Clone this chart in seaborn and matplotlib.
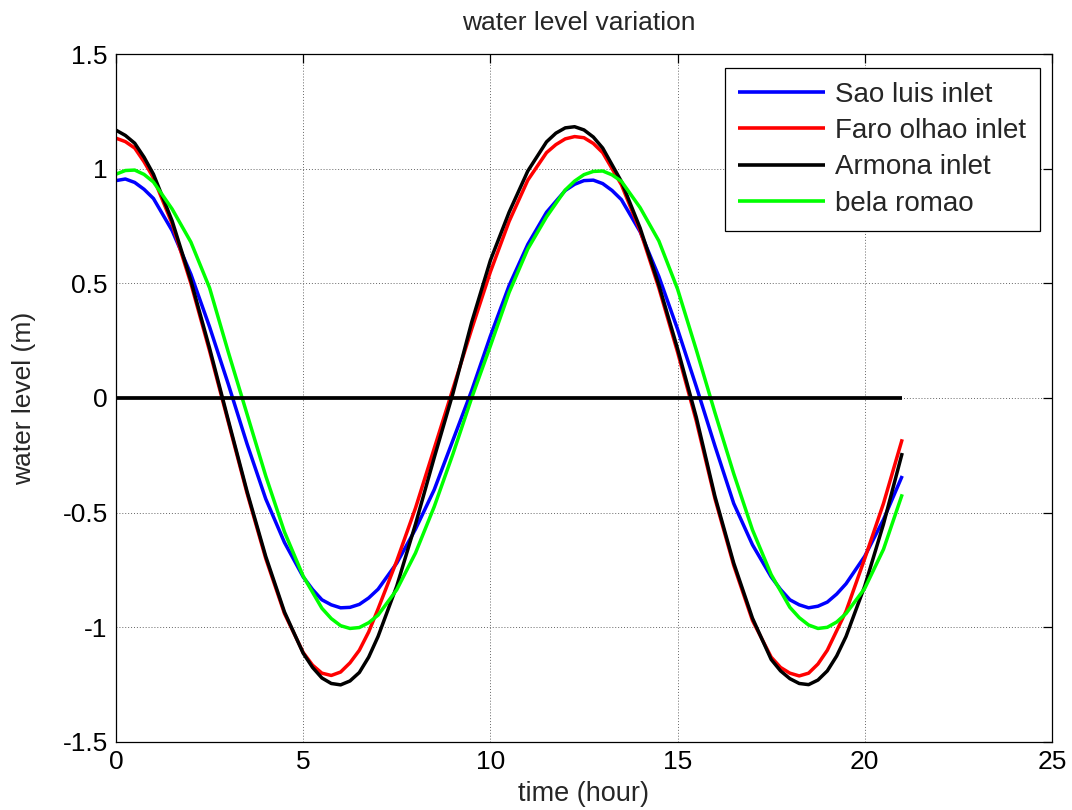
import matplotlib
matplotlib.use("Agg")
import matplotlib.pyplot as plt
import seaborn as sns

# ---------------- data ----------------
sao_luis_t = [0, 0.25, 0.5, 0.75, 1, 1.5, 2, 2.5, 3, 3.5, 4, 4.5, 5,
              5.25, 5.5, 5.75, 6, 6.25, 6.5, 6.75, 7,
              7.5, 8, 8.5, 9, 9.5, 10, 10.5, 11, 11.5, 12,
              12.25, 12.5, 12.75, 13, 13.25, 13.5,
              14, 14.5, 15, 15.5, 16, 16.5, 17, 17.5,
              17.75, 18, 18.25, 18.5, 18.75, 19, 19.25, 19.5,
              20, 20.5, 21]
sao_luis = [0.948, 0.955, 0.94, 0.91, 0.87, 0.73, 0.54, 0.31, 0.06, -0.20, -0.44, -0.63, -0.78,
            -0.835, -0.88, -0.902, -0.915, -0.913, -0.90, -0.872, -0.834,
            -0.72, -0.572, -0.40, -0.184, 0.032, 0.27, 0.49, 0.67, 0.81, 0.905,
            0.932, 0.948, 0.95, 0.935, 0.905, 0.865,
            0.725, 0.53, 0.30, 0.05, -0.21, -0.46, -0.64, -0.78,
            -0.835, -0.88, -0.902, -0.915, -0.908, -0.89, -0.855, -0.81,
            -0.69, -0.53, -0.34]

faro_olhao_t = [0, 0.25, 0.5, 0.75, 1, 1.5, 2, 2.5, 3, 3.5, 4, 4.5, 5,
                5.25, 5.5, 5.75, 6, 6.25, 6.5, 6.75, 7,
                7.5, 8, 8.5, 9, 9.5, 10, 10.5, 11, 11.5,
                11.75, 12, 12.25, 12.5, 12.75, 13,
                13.5, 14, 14.5, 15, 15.5, 16, 16.5, 17, 17.5,
                17.75, 18, 18.25, 18.5, 18.75, 19,
                19.5, 20, 20.5, 21]
faro_olhao = [1.133, 1.118, 1.09, 1.03, 0.96, 0.76, 0.50, 0.205, -0.105, -0.415, -0.70, -0.94, -1.11,
              -1.165, -1.20, -1.21, -1.195, -1.155, -1.10, -1.02, -0.92,
              -0.71, -0.48, -0.22, 0.04, 0.30, 0.55, 0.77, 0.95, 1.07,
              1.105, 1.13, 1.14, 1.135, 1.11, 1.07,
              0.93, 0.73, 0.48, 0.20, -0.10, -0.44, -0.73, -0.97, -1.13,
              -1.175, -1.20, -1.212, -1.20, -1.16, -1.10,
              -0.93, -0.70, -0.46, -0.18]

armona_t = [0, 0.25, 0.5, 0.75, 1, 1.5, 2, 2.5, 3, 3.5, 4, 4.5, 5,
            5.25, 5.5, 5.75, 6, 6.25, 6.5, 6.75, 7,
            7.5, 8, 8.5, 9, 9.5, 10, 10.5, 11, 11.5,
            11.75, 12, 12.25, 12.5, 12.75, 13,
            13.5, 14, 14.5, 15, 15.5, 16, 16.5, 17, 17.5,
            17.75, 18, 18.25, 18.5, 18.75, 19, 19.25, 19.5,
            20, 20.5, 21]
armona = [1.168, 1.145, 1.111, 1.05, 0.976, 0.772, 0.512, 0.217, -0.097, -0.407, -0.691, -0.933, -1.113,
          -1.175, -1.221, -1.245, -1.251, -1.234, -1.197, -1.13, -1.04,
          -0.82, -0.55, -0.26, 0.02, 0.33, 0.60, 0.81, 0.99, 1.117,
          1.155, 1.178, 1.183, 1.169, 1.138, 1.090,
          0.944, 0.741, 0.493, 0.215, -0.084, -0.43, -0.72, -0.96, -1.14,
          -1.19, -1.224, -1.245, -1.25, -1.23, -1.19, -1.125, -1.04,
          -0.82, -0.55, -0.24]

bela_romao_t = [0, 0.25, 0.5, 0.75, 1, 1.5, 2, 2.5, 3, 3.5, 4, 4.5, 5,
                5.5, 5.75, 6, 6.25, 6.5, 6.75, 7,
                7.5, 8, 8.5, 9, 9.5, 10, 10.5, 11, 11.5, 12,
                12.25, 12.5, 12.75, 13, 13.25, 13.5,
                14, 14.5, 15, 15.5, 16, 16.5, 17, 17.5,
                18, 18.25, 18.5, 18.75, 19, 19.25, 19.5,
                20, 20.5, 21]
bela_romao = [0.976, 0.992, 0.994, 0.975, 0.942, 0.824, 0.68, 0.48, 0.20, -0.07, -0.34, -0.584, -0.777,
              -0.917, -0.962, -0.993, -1.005, -1.001, -0.98, -0.947,
              -0.836, -0.676, -0.474, -0.244, 0.0, 0.227, 0.46, 0.65, 0.79, 0.907,
              0.946, 0.974, 0.988, 0.99, 0.973, 0.945,
              0.83, 0.685, 0.475, 0.21, -0.065, -0.33, -0.575, -0.77,
              -0.913, -0.958, -0.99, -1.005, -1.0, -0.977, -0.94,
              -0.83, -0.66, -0.42]

zero_x = [0, 21]
zero_y = [0, 0]

series_names = ["Sao luis inlet", "Faro olhao inlet", "Armona inlet", "bela romao"]
series_times = [sao_luis_t, faro_olhao_t, armona_t, bela_romao_t]
series_values = [sao_luis, faro_olhao, armona, bela_romao]
series_colors = ["#0000FF", "#FF0000", "#000000", "#00FF00"]

x_ticks = [0, 5, 10, 15, 20, 25]
y_ticks = [-1.5, -1, -0.5, 0, 0.5, 1, 1.5]
y_tick_labels = ["-1.5", "-1", "-0.5", "0", "0.5", "1", "1.5"]

for tt, vv in zip(series_times, series_values):
    assert len(tt) == len(vv), (len(tt), len(vv))

# ---------------- plot ----------------
sns.set_style("white")
plt.rcParams['font.family'] = ['Liberation Sans', 'DejaVu Sans']

fig = plt.figure(figsize=(10.72, 8.10), dpi=100)
ax = fig.add_axes([0.1082, 0.0840, 0.8731, 0.8493])

for name, tt, vals, col in zip(series_names, series_times, series_values, series_colors):
    sns.lineplot(x=tt, y=vals, color=col, linewidth=2.5, label=name, ax=ax,
                 estimator=None, sort=False)

sns.lineplot(x=zero_x, y=zero_y, color="black", linewidth=2.7, ax=ax,
             estimator=None, sort=False, label="_nolegend_")

for ln in ax.get_lines():
    ln.set_solid_joinstyle("round")
    ln.set_solid_capstyle("butt")

ax.set_xlim(0, 25)
ax.set_ylim(-1.5, 1.5)
ax.set_xticks(x_ticks)
ax.set_xticklabels([str(v) for v in x_ticks])
ax.set_yticks(y_ticks)
ax.set_yticklabels(y_tick_labels)

ax.grid(True, linestyle=(0, (1, 2)), color="0.4", linewidth=0.7)
for sp in ax.spines.values():
    sp.set_color("black")
    sp.set_linewidth(0.9)

ax.tick_params(direction="in", length=6.5, width=0.9, top=True, right=True,
               labelsize=19, pad=6, colors="black")

ax.set_title("water level variation", fontsize=19, pad=17, x=0.494)
ax.set_xlabel("time (hour)", fontsize=19.5, labelpad=5)
ax.set_ylabel("water level (m)", fontsize=19, labelpad=19)

leg = ax.legend(loc="upper right", bbox_to_anchor=(0.9872, 0.9797),
                borderaxespad=0, fontsize=20, frameon=True, fancybox=False,
                edgecolor="black", handlelength=3.1, handletextpad=0.38,
                labelspacing=0.37, borderpad=0.5)
leg.get_frame().set_linewidth(0.9)
leg.get_frame().set_facecolor("white")
leg.get_frame().set_alpha(1)
for hl in leg.get_lines():
    hl.set_linewidth(2.6)

fig.savefig("out.png", dpi=100)
